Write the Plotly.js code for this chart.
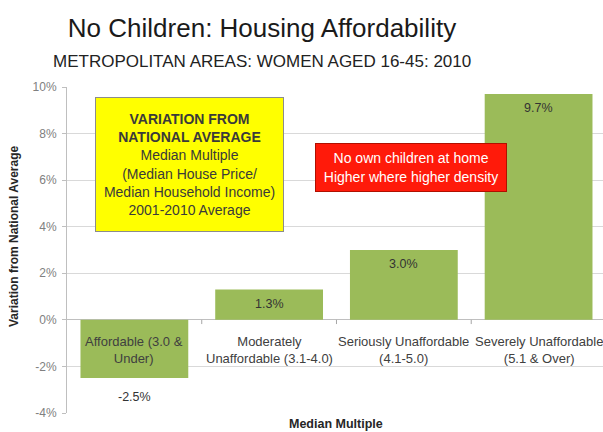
<!DOCTYPE html>
<html>
<head>
<meta charset="utf-8">
<script src="https://cdn.plot.ly/plotly-3.0.1.min.js"></script>
<style>html,body{margin:0;padding:0;background:#fff;}#chart{width:603px;height:432px;}</style>
</head>
<body>
<div id="chart"></div>
<script>
// ---- data ----
var categories = [
  "Affordable (3.0 &<br>Under)",
  "Moderately<br>Unaffordable (3.1-4.0)",
  "Seriously Unaffordable<br>(4.1-5.0)",
  "Severely Unaffordable<br>(5.1 & Over)"
];
var values = [-2.5, 1.3, 3.0, 9.7];
var yTickVals = [-4, -2, 0, 2, 4, 6, 8, 10];
var titleText = "No Children: Housing Affordability";
var subtitleText = "METROPOLITAN AREAS: WOMEN AGED 16-45: 2010";
var yTitleText = "Variation from National Average";
var xTitleText = "Median Multiple";
var yellowBoxLines = ["<b>VARIATION FROM</b>", "<b>NATIONAL AVERAGE</b>", "Median Multiple", "(Median House Price/", "Median Household Income)", "2001-2010 Average"];
var redBoxLines = ["No own children at home", "Higher where higher density"];

var FONT = "Liberation Sans, Arial, sans-serif";
var idx = categories.map(function(_, i){ return i; });

var trace = {
  type: "bar",
  x: idx,
  y: values,
  width: 0.8,
  marker: {color: "#9bbb59", line: {width: 0}},
  hoverinfo: "skip"
};

var annotations = [];
// subtitle
annotations.push({xref: "paper", yref: "paper", x: (262-67)/536, y: (413-61)/326, xanchor: "center", yanchor: "middle",
  text: subtitleText, showarrow: false, font: {family: FONT, size: 17, color: "#222222"}});
// y axis title
annotations.push({xref: "paper", yref: "paper", x: (14-67)/536, y: (413-237)/326, xanchor: "center", yanchor: "middle",
  text: "<b>" + yTitleText + "</b>", textangle: -90, showarrow: false, font: {family: FONT, size: 12, color: "#262626"}});
// x axis title
annotations.push({xref: "paper", yref: "paper", x: (336-67)/536, y: (413-423.5)/326, xanchor: "center", yanchor: "middle",
  text: "<b>" + xTitleText + "</b>", showarrow: false, font: {family: FONT, size: 12.5, color: "#262626"}});
// category labels at zero line
categories.forEach(function(c, i){
  annotations.push({xref: "x", yref: "y", x: i, y: 0, xanchor: "center", yanchor: "top", yshift: -12,
    text: c, showarrow: false, font: {family: FONT, size: 13, color: "#404040"}});
});
// value labels
values.forEach(function(v, i){
  annotations.push({xref: "x", yref: "y", x: i, y: v, xanchor: "center", yanchor: "middle",
    yshift: v < 0 ? -19 : -14, text: v.toFixed(1) + "%", showarrow: false,
    font: {family: FONT, size: 12.5, color: "#333333"}});
});
// yellow box
annotations.push({xref: "paper", yref: "paper", x: (189.5-67)/536, y: (413-164.5)/326, xanchor: "center", yanchor: "middle",
  text: yellowBoxLines.join("<br>"), showarrow: false, align: "center",
  width: 175, height: 121, borderpad: 6, bgcolor: "#ffff00", bordercolor: "#8c8c8c", borderwidth: 1,
  font: {family: FONT, size: 14, color: "#3a3a3a"}});
// red box
annotations.push({xref: "paper", yref: "paper", x: (411-67)/536, y: (413-167.5)/326, xanchor: "center", yanchor: "middle",
  text: redBoxLines.join("<br>"), showarrow: false, align: "center",
  width: 180, height: 37, borderpad: 5, bgcolor: "#ff1a0a", bordercolor: "#b01000", borderwidth: 1,
  font: {family: FONT, size: 14, color: "#ffffff"}});

// category boundary tick marks on zero line
var shapes = [];
for (var i = 0; i < categories.length - 1; i++) {
  shapes.push({type: "line", xref: "x", yref: "y", x0: i + 0.5, x1: i + 0.5, y0: 0, y1: -0.18,
    line: {color: "#a6a6a6", width: 1}});
}

var layout = {
  width: 603, height: 432,
  margin: {l: 67, r: 0, t: 87, b: 19, pad: 0},
  paper_bgcolor: "#ffffff", plot_bgcolor: "#ffffff",
  showlegend: false,
  title: {text: titleText, font: {family: FONT, size: 26, color: "#1a1a1a"},
    xref: "container", yref: "container", x: 262/603, y: 1 - 28/432, xanchor: "center", yanchor: "middle"},
  xaxis: {range: [-0.5, 3.478], showticklabels: false, ticks: "", showgrid: false, zeroline: false, showline: false, fixedrange: true},
  yaxis: {range: [-4, 10], tickvals: yTickVals, ticktext: yTickVals.map(function(v){ return v + "%"; }),
    ticks: "outside", ticklen: 4, tickcolor: "#bfbfbf", showline: true, linecolor: "#bfbfbf", linewidth: 1,
    showgrid: true, gridcolor: "#d9d9d9", gridwidth: 1, zeroline: true, zerolinecolor: "#bfbfbf", zerolinewidth: 1,
    tickfont: {family: FONT, size: 12, color: "#808080"}, ticklabelstandoff: 3, fixedrange: true},
  annotations: annotations,
  shapes: shapes
};

Plotly.newPlot("chart", [trace], layout, {displayModeBar: false, staticPlot: true});
</script>
</body>
</html>
